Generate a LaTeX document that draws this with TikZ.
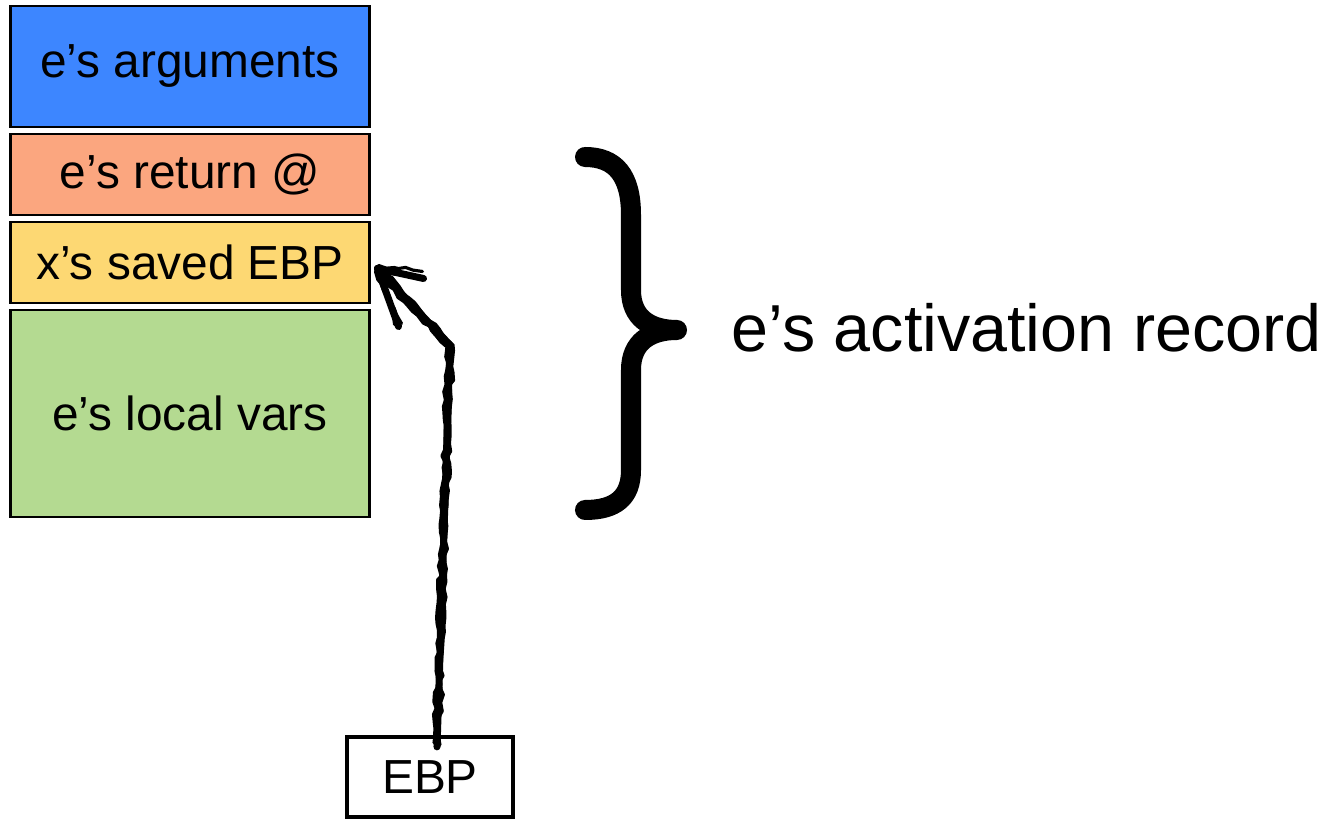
\documentclass[tikz,border=0pt]{standalone}
\usepackage{fontspec}
\setmainfont{Liberation Sans}
\usetikzlibrary{positioning,decorations.pathmorphing}

\definecolor{argblue}{HTML}{3D86FF}
\definecolor{retsalmon}{HTML}{FBA67F}
\definecolor{ebpyellow}{HTML}{FDD873}
\definecolor{localgreen}{HTML}{B4DA91}

\begin{document}
\begin{tikzpicture}[x=0.01cm, y=-0.01cm,
		frame/.style={draw=black, line width=0.8pt, minimum width=3.58cm, inner sep=0pt, font=\fontsize{13.6}{16}\selectfont},
		pen/.style={line width=2pt, line cap=round, line join=round},
		sketch/.style={line width=0.9pt, line cap=round, line join=round, decorate, decoration={random steps, segment length=2pt, amplitude=0.5pt}}]
			\useasboundingbox (0, 0) rectangle (1326, 819);

			\node[frame, fill=argblue, minimum height=1.21cm] (args) at (190, 66.5) {e’s arguments};
			\node[frame, fill=retsalmon, minimum height=0.81cm] (ret) at (190, 174.5) {e’s return @};
			\node[frame, fill=ebpyellow, minimum height=0.81cm] (saved) at (190, 262.5) {x’s saved EBP};
			\node[frame, fill=localgreen, minimum height=2.07cm] (locals) at (190, 413.5) {e’s local vars};

			\node[draw, line width=1.2pt, minimum width=1.66cm, minimum height=0.8cm, font=\fontsize{13.6}{16}\selectfont] (ebp) at (430, 777) {EBP};

			\node[anchor=base west, inner sep=0pt, font=\fontsize{18.9}{22}\selectfont] (record) at (731, 352) {e’s activation record};

			% brace
			\draw [line width=0.2cm, line cap=round, line join=round] (585, 157) .. controls (615, 157) and (631, 175) .. (631, 215) -- (631, 290) .. controls (631, 318) and (650, 330) .. (677, 330)
				.. controls (650, 330) and (631, 342) .. (631, 370) -- (631, 470) .. controls (631, 498) and (615, 510) .. (585, 510);

			% pointer
			\coordinate (bend) at (450, 345);
			\coordinate (tip) at ([shift={(7, 6)}]saved.east);
			\draw [pen] ([shift={(7, 12)}]ebp.north) -- (bend) -- (tip);
			\draw [pen] (tip) -- +(46, 10);
			\draw [pen] (tip) -- +(21, 58);
			\draw [sketch] ([shift={(10, 10)}]ebp.north) -- ([shift={(3, 0)}]bend) -- ([shift={(2, -2)}]tip);
			\draw [sketch] ([shift={(4, 8)}]ebp.north) -- ([shift={(-3, 2)}]bend) -- ([shift={(-2, 3)}]tip);
			\draw [sketch] ([shift={(1, -3)}]tip) -- +(44, 6);
			\draw [sketch] ([shift={(-2, 3)}]tip) -- +(26, 52);
			\draw [sketch] ([shift={(2, 4)}]tip) -- +(40, 4);
			\draw [sketch] ([shift={(3, 2)}]tip) -- +(14, 54);
	\end{tikzpicture}
\end{document}
